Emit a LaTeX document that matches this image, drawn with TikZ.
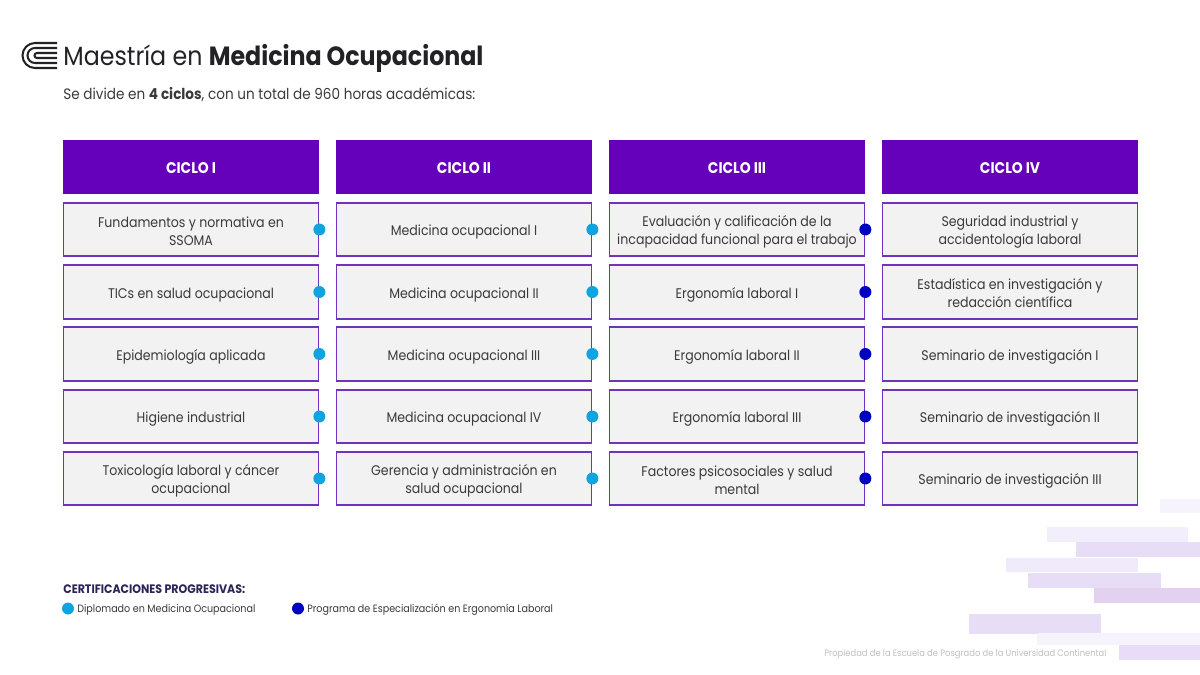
\documentclass[tikz,border=0pt]{standalone}
\usepackage{fontspec}
\setmainfont[FakeStretch=0.9]{Poppins}
\definecolor{headviolet}{HTML}{6500BB}
\definecolor{edgeviolet}{HTML}{7033BC}
\definecolor{boxgray}{HTML}{F2F2F2}
\definecolor{textgray}{HTML}{3A3A3A}
\definecolor{inkblack}{HTML}{222226}
\definecolor{dotsky}{HTML}{0FA3DF}
\definecolor{dotblue}{HTML}{0000C4}
\definecolor{navyink}{HTML}{2C2358}
\definecolor{barfaint}{HTML}{F7F3FD}
\definecolor{barpale}{HTML}{F3EEFB}
\definecolor{barcool}{HTML}{EFEBFA}
\definecolor{barmid}{HTML}{E8DDF7}
\definecolor{bardeep}{HTML}{E2D2F0}
\newcommand{\dropline}{\rule{0pt}{9.2pt}}
\begin{document}
\begin{tikzpicture}
		[	x=0.02cm,y=-0.02cm,
		head/.style={rectangle,draw=none,fill=headviolet,text=white,minimum width=5.12cm,minimum height=1.08cm,text height=7pt,text depth=0pt,font=\fontsize{8.8}{10}\selectfont\bfseries},
		course/.style={rectangle,draw=edgeviolet,line width=1pt,fill=boxgray,text=textgray,minimum width=5.1cm,minimum height=1.07cm,align=center,inner sep=0pt,font=\fontsize{7.95}{10.2}\selectfont,execute at begin node={\rule{0pt}{9.2pt}},execute at end node={\rule[-1.5pt]{0pt}{1.5pt}}},
		sky/.style={circle,fill=dotsky,minimum size=0.24cm,inner sep=0pt},
		blue/.style={circle,fill=dotblue,minimum size=0.24cm,inner sep=0pt},
		plain/.style={draw=none,fill=none,inner sep=0pt},
		logoline/.style={draw=inkblack,line width=1.15pt},
		]
		\useasboundingbox (0,0) rectangle (1200,675);

		% bars behind
		\fill[fill=barfaint] (1160,499) rectangle (1200,513);
		\fill[fill=barpale] (1047,527) rectangle (1188,542);
		\fill[fill=barmid] (1076,542) rectangle (1200,557);
		\fill[fill=barcool] (1006,558) rectangle (1138,572);
		\fill[fill=barmid] (1028,573) rectangle (1161,588);
		\fill[fill=bardeep] (1094,588) rectangle (1200,603);
		\fill[fill=barmid] (969,614) rectangle (1101,634);
		\fill[fill=barfaint] (1037,633) rectangle (1200,645);
		\fill[fill=barmid] (1119,645) rectangle (1200,660);

		% logo
		\draw[logoline] (57,43) -- (35,43) arc[start angle=90,end angle=270,radius=0.25cm] -- (57,68);
		\draw[logoline] (57,48) -- (35,48) arc[start angle=90,end angle=270,radius=0.15cm] -- (57,63);
		\draw[logoline] (57,53) -- (37,53) arc[start angle=90,end angle=270,radius=0.05cm] -- (57,58);

		\node[plain,anchor=west,text=inkblack,font=\fontsize{15}{18}\selectfont,name=title] at (63,58.5){Maestría en \textbf{Medicina Ocupacional}};
		\node[plain,anchor=west,text=textgray,font=\fontsize{8.6}{10}\selectfont,name=intro] at (63,95){Se divide en \textbf{4 ciclos}, con un total de 960 horas académicas:};

		\node[head,name=h1] at (191,167){CICLO I};
		\node[head,name=h2] at (464,167){CICLO II};
		\node[head,name=h3] at (737,167){CICLO III};
		\node[head,name=h4] at (1010,167){CICLO IV};

		\node[course,name=a1] at (191,229.5){\dropline Fundamentos y normativa en\\SSOMA};
		\node[course,name=a2] at (191,292){TICs en salud ocupacional};
		\node[course,name=a3] at (191,354){Epidemiología aplicada};
		\node[course,name=a4] at (191,416.5){Higiene industrial};
		\node[course,name=a5] at (191,478.5){\dropline Toxicología laboral y cáncer\\ocupacional};

		\node[course,name=b1] at (464,229.5){Medicina ocupacional I};
		\node[course,name=b2] at (464,292){Medicina ocupacional II};
		\node[course,name=b3] at (464,354){Medicina ocupacional III};
		\node[course,name=b4] at (464,416.5){Medicina ocupacional IV};
		\node[course,name=b5] at (464,478.5){\dropline Gerencia y administración en\\salud ocupacional};

		\node[course,name=c1] at (737,229.5){\dropline Evaluación y calificación de la\\incapacidad funcional para el trabajo};
		\node[course,name=c2] at (737,292){Ergonomía laboral I};
		\node[course,name=c3] at (737,354){Ergonomía laboral II};
		\node[course,name=c4] at (737,416.5){Ergonomía laboral III};
		\node[course,name=c5] at (737,478.5){\dropline Factores psicosociales y salud\\mental};

		\node[course,name=d1] at (1010,229.5){\dropline Seguridad industrial y\\accidentología laboral};
		\node[course,name=d2] at (1010,292){\dropline Estadística en investigación y\\redacción científica};
		\node[course,name=d3] at (1010,354){Seminario de investigación I};
		\node[course,name=d4] at (1010,416.5){Seminario de investigación II};
		\node[course,name=d5] at (1010,478.5){Seminario de investigación III};

		\node[sky,name=s1] at (a1.east){};
		\node[sky,name=s2] at (a2.east){};
		\node[sky,name=s3] at (a3.east){};
		\node[sky,name=s4] at (a4.east){};
		\node[sky,name=s5] at (a5.east){};
		\node[sky,name=s6] at (b1.east){};
		\node[sky,name=s7] at (b2.east){};
		\node[sky,name=s8] at (b3.east){};
		\node[sky,name=s9] at (b4.east){};
		\node[sky,name=s10] at (b5.east){};
		\node[blue,name=u1] at (c1.east){};
		\node[blue,name=u2] at (c2.east){};
		\node[blue,name=u3] at (c3.east){};
		\node[blue,name=u4] at (c4.east){};
		\node[blue,name=u5] at (c5.east){};

		\node[plain,anchor=west,text=navyink,font=\fontsize{7}{8}\selectfont\bfseries,name=certs] at (63,589){CERTIFICACIONES PROGRESIVAS:};
		\node[sky,name=keysky] at (68,608.5){};
		\node[plain,anchor=west,text=textgray,font=\fontsize{6.05}{8}\selectfont,name=keyskytext] at (77,610){Diplomado en Medicina Ocupacional};
		\node[blue,name=keyblue] at (298,608.5){};
		\node[plain,anchor=west,text=textgray,font=\fontsize{6.05}{8}\selectfont,name=keybluetext] at (307,610){Programa de Especialización en Ergonomía Laboral};
		\node[plain,anchor=west,text=black!25,font=\fontsize{5.3}{7}\selectfont,name=owner] at (824,654){Propiedad de la Escuela de Posgrado de la Universidad Continental};
	\end{tikzpicture}
\end{document}
